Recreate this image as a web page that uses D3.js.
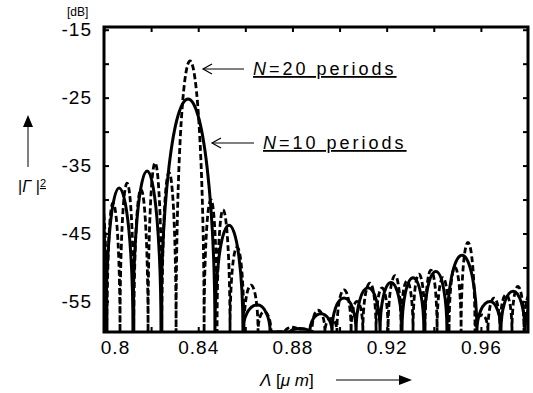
<!DOCTYPE html>
<html>
<head>
<meta charset="utf-8">
<script src="https://cdn.jsdelivr.net/npm/d3@7/dist/d3.min.js"></script>
<style>
  body { margin: 0; background: #fff; }
  svg text { font-family: "Liberation Sans", Arial, sans-serif; fill: #000; }
</style>
</head>
<body>
<svg id="chart" width="533" height="393"></svg>
<script>
// axis ticks
const xTickValues = [0.8, 0.84, 0.88, 0.92, 0.96];
const xTickLabels = ['0.8', '0.84', '0.88', '0.92', '0.96'];
const xMinorValues = [0.82, 0.86, 0.9, 0.94];
const yTickValues = [-15, -25, -35, -45, -55];
const yMinorValues = [-20, -30, -40, -50];

// N=10 periods (solid): nulls of the response and the lobe maxima between them
const n10Nulls = [0.7941, 0.8008, 0.8123, 0.8242, 0.8471, 0.8590, 0.8705, 0.8790, 0.8874,
  0.8968, 0.9070, 0.9172, 0.9265, 0.9358, 0.9456, 0.9583, 0.9685, 0.9787, 0.9872];
const n10PeakLambda = [0.7983, 0.8064, 0.8183, 0.8357, 0.8531, 0.8650, 0.8747, 0.8832, 0.8921,
  0.9019, 0.9121, 0.9218, 0.9312, 0.9409, 0.9520, 0.9639, 0.9737, 0.9830];
const n10PeakDb = [-39.5, -38.3, -35.8, -25.2, -43.8, -55.5, -62, -59, -56.8,
  -54.5, -53, -52.2, -51.5, -50.6, -48.2, -55, -53.5, -55];

// N=20 periods (dashed)
const n20Nulls = [0.7953, 0.8013, 0.8068, 0.8127, 0.8187, 0.8246, 0.8306, 0.8425, 0.8480,
  0.8535, 0.8594, 0.8654, 0.8709, 0.8768, 0.8828, 0.8883, 0.8938, 0.8989, 0.9049, 0.9099,
  0.9155, 0.9206, 0.9261, 0.9312, 0.9363, 0.9414, 0.9465, 0.9516, 0.9575, 0.9630, 0.9681,
  0.9732, 0.9783, 0.9834];
const n20PeakLambda = [0.7983, 0.8038, 0.8098, 0.8157, 0.8217, 0.8276, 0.8365, 0.8454, 0.8505,
  0.8565, 0.8624, 0.8679, 0.8739, 0.8802, 0.8857, 0.8908, 0.8964, 0.9019, 0.9074, 0.9129,
  0.9180, 0.9236, 0.9286, 0.9337, 0.9388, 0.9439, 0.9490, 0.9545, 0.9605, 0.9656, 0.9707,
  0.9757, 0.9808];
const n20PeakDb = [-39, -40.5, -37.6, -38.5, -34.6, -36, -19.6, -40, -41.5,
  -47, -52.6, -56.5, -62, -58.8, -60.5, -56.3, -57.5, -53.3, -55, -52.3,
  -53, -51.2, -52, -51, -50.4, -51.5, -50, -46.3, -57, -54.5, -54,
  -52.8, -54];

const margin = { left: 104, right: 5, top: 27, bottom: 61 };
const W = 533, H = 393;
const yMin = -59.5, yMax = -14.6;

const svg = d3.select('#chart');

const x = d3.scaleLinear().domain([0.8, 0.98]).range([margin.left, W - margin.right]);
const y = d3.scaleLinear().domain([yMin, yMax]).range([H - margin.bottom, margin.top]);

svg.append('defs').append('clipPath').attr('id', 'plot')
  .append('rect')
  .attr('x', x.range()[0]).attr('y', y.range()[1])
  .attr('width', x.range()[1] - x.range()[0])
  .attr('height', y.range()[0] - y.range()[1]);

// each lobe drawn as two quarter ellipses: steep at the nulls, round at the top
function lobePath(nulls, peakL, peakDb) {
  const yB = y(yMin);
  let d = `M${x(nulls[0])},${yB}`;
  for (let i = 0; i < peakL.length; i++) {
    const x0 = x(nulls[i]), x1 = x(nulls[i + 1]), xp = x(peakL[i]);
    if (peakDb[i] <= yMin) { d += `L${x1},${yB}`; continue; }
    const yp = y(peakDb[i]);
    const ry = yB - yp;
    d += `A${xp - x0},${ry} 0 0 1 ${xp},${yp}`;
    d += `A${x1 - xp},${ry} 0 0 1 ${x1},${yB}`;
  }
  return d;
}

const curves = svg.append('g').attr('clip-path', 'url(#plot)');

curves.append('path')
  .attr('d', lobePath(n10Nulls, n10PeakLambda, n10PeakDb))
  .attr('fill', 'none')
  .attr('stroke', '#000')
  .attr('stroke-width', 3);

curves.append('path')
  .attr('d', lobePath(n20Nulls, n20PeakLambda, n20PeakDb))
  .attr('fill', 'none')
  .attr('stroke', '#000')
  .attr('stroke-width', 2.8)
  .attr('stroke-dasharray', '6,3');

// axes, ticks pointing inward
const allY = yTickValues.concat(yMinorValues);
const allX = xTickValues.concat(xMinorValues);

svg.append('g')
  .attr('transform', `translate(${x.range()[0]},0)`)
  .call(d3.axisLeft(y).tickValues(yTickValues).tickSize(-5).tickSizeOuter(0).tickPadding(12)
    .tickFormat(d => String(d)))
  .call(g => g.select('.domain').remove())
  .call(g => g.selectAll('text').style('font-size', '19px').style('letter-spacing', '1px'));

svg.append('g')
  .attr('transform', `translate(${x.range()[0]},0)`)
  .call(d3.axisLeft(y).tickValues(yMinorValues).tickSize(-5).tickFormat(''))
  .call(g => g.select('.domain').remove());

svg.append('g')
  .attr('transform', `translate(${x.range()[1]},0)`)
  .call(d3.axisRight(y).tickValues(allY).tickSize(-5).tickFormat(''))
  .call(g => g.select('.domain').remove());

svg.append('g')
  .attr('transform', `translate(0,${y.range()[0]})`)
  .call(d3.axisBottom(x).tickValues(xTickValues).tickSize(-5).tickPadding(9)
    .tickFormat((d, i) => xTickLabels[i]))
  .call(g => g.select('.domain').remove())
  .call(g => g.selectAll('text').style('font-size', '19px').style('letter-spacing', '1px'))
  .call(g => g.selectAll('text').filter((d, i) => i === 0).attr('dx', 11));

svg.append('g')
  .attr('transform', `translate(0,${y.range()[0]})`)
  .call(d3.axisBottom(x).tickValues(xMinorValues).tickSize(-5).tickFormat(''))
  .call(g => g.select('.domain').remove());

svg.append('g')
  .attr('transform', `translate(0,${y.range()[1]})`)
  .call(d3.axisTop(x).tickValues(allX).tickSize(-5).tickFormat(''))
  .call(g => g.select('.domain').remove());

svg.selectAll('.tick line').attr('stroke', '#000').attr('stroke-width', 2);

// frame
svg.append('rect')
  .attr('x', x.range()[0]).attr('y', y.range()[1])
  .attr('width', x.range()[1] - x.range()[0])
  .attr('height', y.range()[0] - y.range()[1])
  .attr('fill', 'none').attr('stroke', '#000').attr('stroke-width', 3);

// unit
svg.append('text').attr('x', 67).attr('y', 16).style('font-size', '12px').text('[dB]');

// y label with arrow
svg.append('path').attr('d', 'M28,115 L23,127 L33,127 Z').attr('fill', '#000');
svg.append('line').attr('x1', 28).attr('x2', 28).attr('y1', 126).attr('y2', 167)
  .attr('stroke', '#000').attr('stroke-width', 1);
const yl = svg.append('text').attr('x', 18).attr('y', 192).style('font-size', '16px');
yl.append('tspan').text('|');
yl.append('tspan').style('font-style', 'italic').text('Γ');
yl.append('tspan').text(' |');
yl.append('tspan').attr('dy', -5).style('font-size', '11px').attr('text-decoration', 'underline').text('2');

// x label with arrow
const xl = svg.append('text').attr('x', 260).attr('y', 386).style('font-size', '17px');
xl.append('tspan').style('font-style', 'italic').text('Λ');
xl.append('tspan').text(' [');
xl.append('tspan').style('font-style', 'italic').text('μ m');
xl.append('tspan').text(']');
svg.append('line').attr('x1', 336).attr('x2', 400).attr('y1', 380).attr('y2', 380)
  .attr('stroke', '#000').attr('stroke-width', 1);
svg.append('path').attr('d', 'M412,380 L399,375 L399,385 Z').attr('fill', '#000');

// annotations
function annotate(tipX, tipY, endX, textX, textY, num) {
  svg.append('line').attr('x1', tipX).attr('x2', endX).attr('y1', tipY).attr('y2', tipY)
    .attr('stroke', '#000').attr('stroke-width', 1);
  svg.append('path').attr('d', `M${tipX + 9},${tipY - 5} L${tipX},${tipY} L${tipX + 9},${tipY + 5}`)
    .attr('fill', 'none').attr('stroke', '#000').attr('stroke-width', 1.2);
  const t = svg.append('text').attr('x', textX).attr('y', textY)
    .style('font-size', '18px').style('letter-spacing', '3px').attr('text-decoration', 'underline');
  t.append('tspan').style('font-style', 'italic').text('N');
  t.append('tspan').text(`=${num} periods`);
}
annotate(203, 69, 244, 253, 75, 20);
annotate(212, 143, 254, 263, 149, 10);
</script>
</body>
</html>
